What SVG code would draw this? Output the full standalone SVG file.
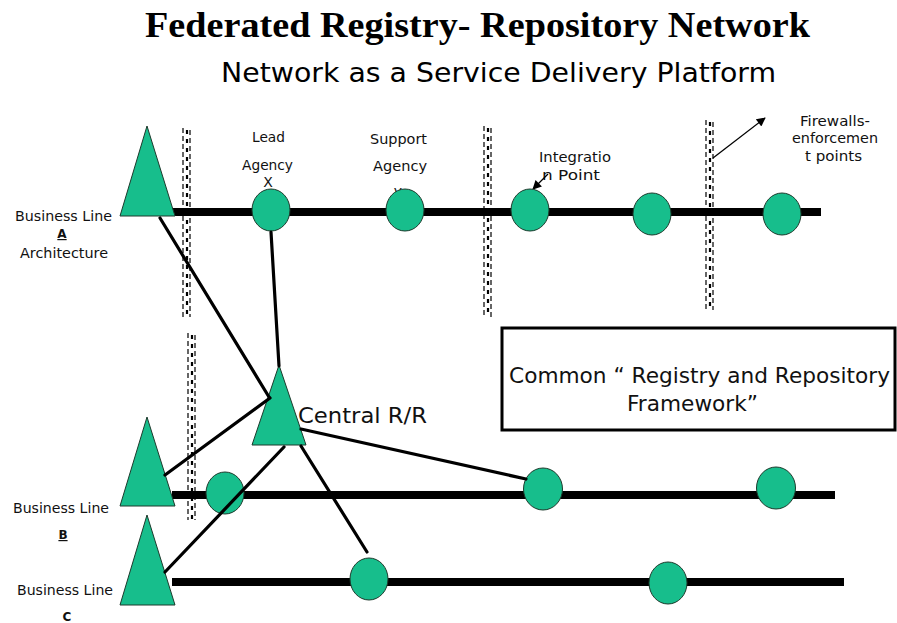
<svg xmlns="http://www.w3.org/2000/svg" width="897" height="623" viewBox="0 0 897 623">
<style>
.bg{fill:#ffffff}
.title{font-family:"Liberation Serif","Times New Roman",serif;font-weight:bold;font-size:35px;fill:#000}
.sub{font-family:"DejaVu Sans",Verdana,sans-serif;font-size:27px;fill:#000}
.lbl{font-family:"DejaVu Sans",Verdana,sans-serif;font-size:14px;fill:#111}
.lblb{font-family:"DejaVu Sans",Verdana,sans-serif;font-size:12px;font-weight:bold;fill:#111}
.big{font-family:"DejaVu Sans",Verdana,sans-serif;font-size:22px;fill:#111}
.node{fill:#17be8c;stroke:#1d3a2c;stroke-width:1}
.bus{stroke:#000;stroke-width:8;fill:none}
.conn{stroke:#000;stroke-width:3.2;fill:none;stroke-linecap:round}
.arr{stroke:#000;stroke-width:1.3;fill:none;marker-end:url(#ah)}
.fwo{stroke:#000;stroke-width:1.2;fill:none;stroke-dasharray:5 3}
.fwi{stroke:#000;stroke-width:2.2;fill:none;stroke-dasharray:4 5}
.box{fill:#fff;stroke:#000;stroke-width:3}
</style>
<defs>
<marker id="ah" viewBox="0 0 10 10" refX="9" refY="5" markerWidth="11" markerHeight="9" markerUnits="userSpaceOnUse" orient="auto">
<path d="M0,0 L10,5 L0,10 z" fill="#000"/>
</marker>
</defs>
<rect class="bg" x="0" y="0" width="897" height="623"/>

<g id="titles">
<text class="title" x="145" y="37" textLength="665" lengthAdjust="spacingAndGlyphs">Federated Registry- Repository Network</text>
<text class="sub" x="221" y="82" textLength="555" lengthAdjust="spacingAndGlyphs">Network as a Service Delivery Platform</text>
</g>

<g id="labels">
<text class="lbl" x="15" y="221" textLength="97" lengthAdjust="spacingAndGlyphs">Business Line</text>
<text class="lblb" x="62" y="238" text-anchor="middle" text-decoration="underline">A</text>
<text class="lbl" x="20" y="258" textLength="88" lengthAdjust="spacingAndGlyphs">Architecture</text>
<text class="lbl" x="13" y="513" textLength="96" lengthAdjust="spacingAndGlyphs">Business Line</text>
<text class="lblb" x="63" y="539" text-anchor="middle" text-decoration="underline">B</text>
<text class="lbl" x="17" y="595" textLength="96" lengthAdjust="spacingAndGlyphs">Business Line</text>
<text class="lblb" x="67" y="621" text-anchor="middle">C</text>
<text class="lbl" x="252" y="142" textLength="33" lengthAdjust="spacingAndGlyphs">Lead</text>
<text class="lbl" x="242" y="170" textLength="51" lengthAdjust="spacingAndGlyphs">Agency</text>
<text class="lbl" x="268" y="187" text-anchor="middle">X</text>
<text class="lbl" x="370" y="144" textLength="57" lengthAdjust="spacingAndGlyphs">Support</text>
<text class="lbl" x="373" y="171" textLength="54" lengthAdjust="spacingAndGlyphs">Agency</text>
<text class="lbl" x="398" y="196" text-anchor="middle">y</text>
<text class="lbl" x="539" y="162" textLength="72" lengthAdjust="spacingAndGlyphs">Integratio</text>
<text class="lbl" x="542" y="180" textLength="58" lengthAdjust="spacingAndGlyphs">n Point</text>
<text class="lbl" x="800" y="126" textLength="70" lengthAdjust="spacingAndGlyphs">Firewalls-</text>
<text class="lbl" x="792" y="143" textLength="86" lengthAdjust="spacingAndGlyphs">enforcemen</text>
<text class="lbl" x="805" y="161" textLength="57" lengthAdjust="spacingAndGlyphs">t points</text>
</g>

<g id="connectors">
<line class="bus" x1="172" y1="212" x2="821" y2="212"/>
<line class="bus" x1="172" y1="495" x2="835" y2="495"/>
<line class="bus" x1="172" y1="582" x2="844" y2="582"/>
<line class="arr" x1="548" y1="174" x2="533" y2="189"/>
<line class="arr" x1="713" y1="158" x2="765" y2="118"/>
</g>

<g id="firewall-1a">
<line class="fwo" x1="183" y1="128" x2="183" y2="317"/>
<line class="fwo" x1="190" y1="130" x2="190" y2="317"/>
<line class="fwi" x1="187" y1="130" x2="187" y2="317"/>
</g>
<g id="firewall-1b">
<line class="fwo" x1="188" y1="333" x2="188" y2="520"/>
<line class="fwo" x1="195" y1="335" x2="195" y2="520"/>
<line class="fwi" x1="192" y1="335" x2="192" y2="520"/>
</g>
<g id="firewall-2">
<line class="fwo" x1="484" y1="126" x2="484" y2="317"/>
<line class="fwo" x1="491" y1="128" x2="491" y2="317"/>
<line class="fwi" x1="488" y1="128" x2="488" y2="317"/>
</g>
<g id="firewall-3">
<line class="fwo" x1="706" y1="120" x2="706" y2="310"/>
<line class="fwo" x1="713" y1="122" x2="713" y2="310"/>
<line class="fwi" x1="710" y1="122" x2="710" y2="310"/>
</g>

<g id="line-A">
<polygon class="node" points="147,126 120,216 175,216"/>
</g>
<g id="line-B">
<polygon class="node" points="147,417 120,506 175,506"/>
</g>
<g id="line-C">
<polygon class="node" points="147,515 120,605 175,605"/>
</g>
<g id="central-rr">
<polygon class="node" points="279,365 252,445 306,445"/>
<text class="lbl" x="298" y="423" style="font-size:22px" textLength="129" lengthAdjust="spacingAndGlyphs">Central R/R</text>
</g>
<g id="lead-agency-x"><ellipse class="node" cx="271" cy="210" rx="19" ry="21"/></g>
<g id="support-agency-y"><ellipse class="node" cx="405" cy="210" rx="19" ry="21"/></g>
<g id="integration-point"><ellipse class="node" cx="530" cy="210" rx="19" ry="21"/></g>
<g id="a-node-4"><ellipse class="node" cx="652" cy="214" rx="19" ry="21"/></g>
<g id="a-node-5"><ellipse class="node" cx="782" cy="214" rx="19" ry="21"/></g>
<g id="b-node-1"><ellipse class="node" cx="225" cy="493" rx="19" ry="21"/></g>
<g id="b-node-2"><ellipse class="node" cx="543" cy="489" rx="19.5" ry="21"/></g>
<g id="b-node-3"><ellipse class="node" cx="776" cy="488" rx="19.5" ry="21"/></g>
<g id="c-node-1"><ellipse class="node" cx="369" cy="579" rx="19" ry="21"/></g>
<g id="c-node-2"><ellipse class="node" cx="668" cy="583" rx="19" ry="21"/></g>

<g id="connector-links">
<line class="conn" x1="160" y1="218" x2="269" y2="397"/>
<line class="conn" x1="271" y1="232" x2="279" y2="366"/>
<line class="conn" x1="270" y1="398" x2="165" y2="475"/>
<line class="conn" x1="284" y1="447" x2="165" y2="572"/>
<line class="conn" x1="301" y1="446" x2="367" y2="552"/>
<line class="conn" x1="301" y1="429" x2="526" y2="479"/>
</g>

<g id="framework-box">
<rect class="box" x="502" y="328" width="393" height="102"/>
<text class="big" x="509" y="383" textLength="381" lengthAdjust="spacingAndGlyphs">Common “ Registry and Repository</text>
<text class="big" x="627" y="411" textLength="131" lengthAdjust="spacingAndGlyphs">Framework”</text>
</g>
</svg>
